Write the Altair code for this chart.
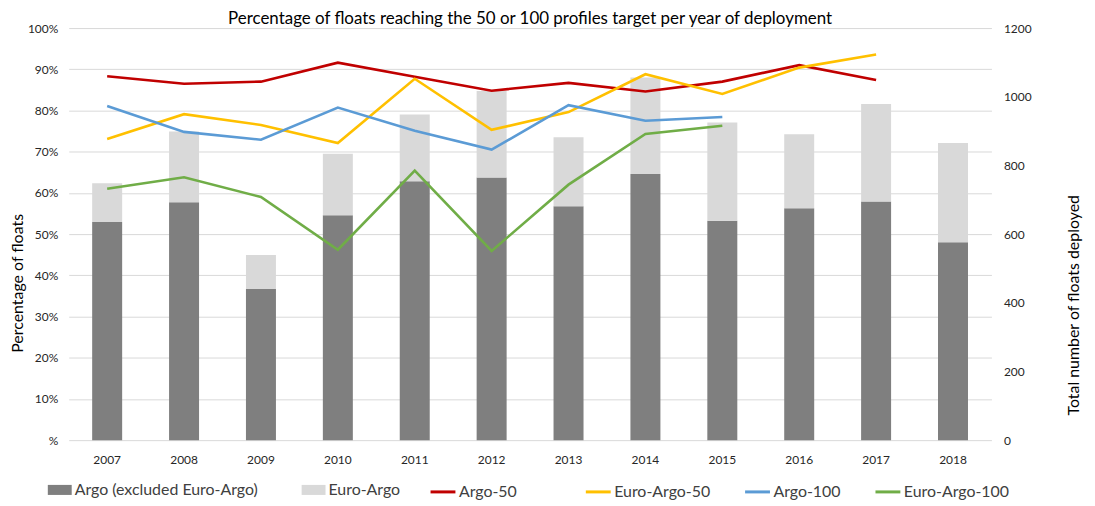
import altair as alt
import pandas as pd

years = ["2007", "2008", "2009", "2010", "2011", "2012",
         "2013", "2014", "2015", "2016", "2017", "2018"]

# Bars (right axis: number of floats deployed), stacked
argo_excl = [635, 693, 440, 655, 754, 765, 681, 775, 639, 675, 695, 576]
euro_argo = [113, 206, 99, 179, 194, 252, 201, 281, 286, 216, 284, 289]

# Lines (left axis: percentage of floats), None = no value
argo_50 = [88.3, 86.5, 87.0, 91.6, 88.2, 84.8, 86.7, 84.6, 87.0, 91.0, 87.4, None]
euro_argo_50 = [73.1, 79.1, 76.5, 72.1, 87.7, 75.3, 79.6, 88.8, 84.0, 90.4, 93.6, None]
argo_100 = [81.1, 74.8, 72.9, 80.7, 75.1, 70.5, 81.3, 77.5, 78.4, None, None, None]
euro_argo_100 = [61.0, 63.8, 59.0, 46.2, 65.4, 45.9, 62.0, 74.3, 76.3, None, None, None]

bar_names = ["Argo (excluded Euro-Argo)", "Euro-Argo"]
bar_colors = ["#7f7f7f", "#d9d9d9"]
line_names = ["Argo-50", "Euro-Argo-50", "Argo-100", "Euro-Argo-100"]
line_colors = ["#c00000", "#ffc000", "#5b9bd5", "#70ad47"]

bar_rows = []
for i, y in enumerate(years):
    bar_rows.append({"year": y, "series": bar_names[0], "value": argo_excl[i], "ord": 0})
    bar_rows.append({"year": y, "series": bar_names[1], "value": euro_argo[i], "ord": 1})
bars_df = pd.DataFrame(bar_rows)

line_rows = []
for name, vals in zip(line_names, [argo_50, euro_argo_50, argo_100, euro_argo_100]):
    for y, v in zip(years, vals):
        if v is not None:
            line_rows.append({"year": y, "series": name, "pct": v / 100.0})
lines_df = pd.DataFrame(line_rows)

FONT = "Lato"
W, H = 927, 414
P_INNER = 0.61

x_enc = alt.X(
    "year:N",
    sort=years,
    scale=alt.Scale(paddingInner=P_INNER, paddingOuter=P_INNER / 2),
    axis=alt.Axis(title=None, labelAngle=0, ticks=False, domain=False,
                  labelPadding=14, labelFontSize=12, labelColor="#262626",
                  labelFont=FONT, grid=False),
)

bars = alt.Chart(bars_df).mark_bar().encode(
    x=x_enc,
    y=alt.Y(
        "value:Q",
        stack="zero",
        scale=alt.Scale(domain=[0, 1200], nice=False),
        axis=alt.Axis(
            orient="right", values=[0, 200, 400, 600, 800, 1000, 1200],
            format="d",
            grid=False, ticks=False, domain=False, labelPadding=12,
            labelFontSize=12, labelColor="#262626", labelFont=FONT,
            title="Total number of floats deployed", titleFont=FONT,
            titleFontSize=16, titleFontWeight="normal", titleColor="#000000",
            titleAngle=270, titleX=82, titleY=278, titleBaseline="middle",
            titleAlign="center",
        ),
    ),
    color=alt.Color(
        "series:N",
        scale=alt.Scale(domain=bar_names, range=bar_colors),
        legend=alt.Legend(
            title=None, orient="none", direction="horizontal",
            legendX=-21, legendY=452, columns=2, columnPadding=43,
            symbolType="M-1,-0.42H1V0.42H-1Z", symbolSize=576,
            symbolStrokeWidth=0, labelOffset=3, labelFont=FONT,
            labelFontSize=16, labelColor="#404040", padding=0,
            labelLimit=400,
        ),
    ),
    order=alt.Order("ord:Q", sort="ascending"),
)

y_pct = alt.Y(
    "pct:Q",
    scale=alt.Scale(domain=[0, 1], nice=False),
    axis=alt.Axis(
        orient="left", values=[i / 10 for i in range(11)], format=".0%",
        labelExpr="datum.value == 0 ? '%' : datum.label",
        grid=True, gridColor="#d9d9d9", gridWidth=1, ticks=False,
        domain=False, labelPadding=11, labelFontSize=12,
        labelColor="#262626", labelFont=FONT,
        title="Percentage of floats", titleFont=FONT, titleFontSize=16,
        titleFontWeight="normal", titleColor="#000000",
        titleAngle=270, titleX=-51, titleY=256, titleBaseline="middle",
        titleAlign="center",
    ),
)


def line_legend(x, n):
    return alt.Legend(
        title=None, orient="none", direction="horizontal",
        legendX=x, legendY=452, columns=n, columnPadding=28,
        symbolType="stroke", symbolSize=625, symbolStrokeWidth=3,
        labelOffset=2, labelFont=FONT, labelFontSize=16,
        labelColor="#404040", padding=0, labelLimit=400,
    )


line50 = alt.Chart(lines_df).transform_filter(
    alt.datum.series == line_names[0]
).mark_line(strokeWidth=2.6).encode(
    x=x_enc,
    y=y_pct,
    color=alt.Color(
        "series:N",
        scale=alt.Scale(domain=line_names[:1], range=line_colors[:1]),
        legend=line_legend(362, 1),
    ),
)

lines_rest = alt.Chart(lines_df).transform_filter(
    alt.datum.series != line_names[0]
).mark_line(strokeWidth=2.6).encode(
    x=x_enc,
    y=y_pct,
    color=alt.Color(
        "series:N",
        scale=alt.Scale(domain=line_names[1:], range=line_colors[1:]),
        legend=line_legend(518, 3),
    ),
)

line_layer = alt.layer(line50, lines_rest).resolve_scale(color="independent")

chart = alt.layer(bars, line_layer).resolve_scale(
    y="independent", color="independent"
).properties(
    width=W,
    height=H,
    autosize=alt.AutoSizeParams(type="none"),
    padding={"left": 61, "top": 19, "right": 96, "bottom": 65},
    title=alt.TitleParams(
        "Percentage of floats reaching the 50 or 100 profiles target per year of deployment",
        font=FONT, fontSize=17, fontWeight="normal", color="#000000",
        anchor="middle", offset=1, frame="group", dy=7,
    ),
).configure_view(stroke=None)

chart.save("out.html", embed_options={"renderer": "svg", "actions": False})
